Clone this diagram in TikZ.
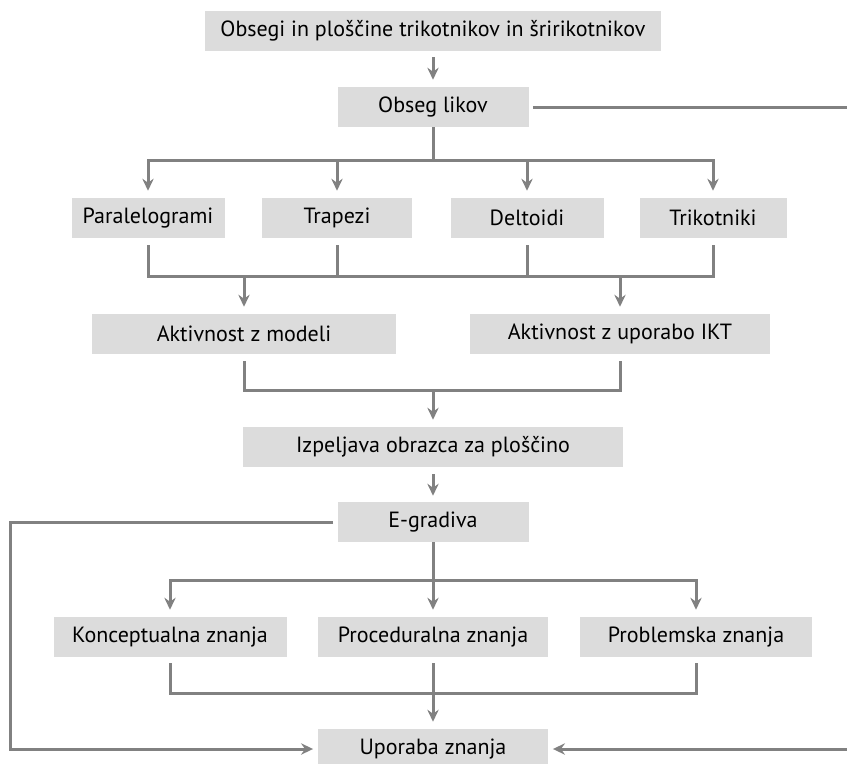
\documentclass[tikz,border=0pt]{standalone}
\usepackage{fontspec}
\setmainfont{PT Sans}
\usepackage{xcolor}
\definecolor{boxgray}{HTML}{DCDCDC}
\definecolor{linegray}{HTML}{818181}
\usetikzlibrary{arrows.meta,positioning}

\begin{document}
\begin{tikzpicture}[
  x=0.75pt,y=-0.75pt,
  box/.style={fill=boxgray,minimum height=30pt,inner sep=0pt,font=\fontsize{16.5}{19}\selectfont},
  link/.style={line width=2.25pt,draw=linegray},
  arrow/.style={link,-{Stealth[length=9pt,width=8.5pt,inset=3pt]}}
]
\useasboundingbox (0,0) rectangle (847,764);
\node[box,minimum width=342pt] (top) at (433,31) {Obsegi in ploščine trikotnikov in šririkotnikov};
\node[box,minimum width=143.25pt] (obseg) at (433,107) {Obseg likov};
\node[box,minimum width=114.75pt] (para) at (148,218) {Paralelogrami};
\node[box,minimum width=112.5pt] (trap) at (337,218) {Trapezi};
\node[box,minimum width=114.75pt] (delt) at (527,218) {Deltoidi};
\node[box,minimum width=110.25pt] (trik) at (713,218) {Trikotniki};
\node[box,minimum width=228pt] (model) at (244,334) {Aktivnost z modeli};
\node[box,minimum width=225pt] (ikt) at (620,334) {Aktivnost z uporabo IKT};
\node[box,minimum width=285pt] (izp) at (433,447) {Izpeljava obrazca za ploščino};
\node[box,minimum width=143.25pt] (egr) at (433,522) {E-gradiva};
\node[box,minimum width=174.75pt] (konc) at (170,637) {Konceptualna znanja};
\node[box,minimum width=172.5pt] (proc) at (433,637) {Proceduralna znanja};
\node[box,minimum width=174pt] (prob) at (696,637) {Problemska znanja};
\node[box,minimum width=172.5pt] (upor) at (433,749) {Uporaba znanja};
\coordinate (split1) at (433,160);
\coordinate (bar2) at (433,276);
\coordinate (bar3) at (433,390);
\coordinate (split2) at (433,580);
\coordinate (bar4) at (433,693);
\coordinate (leftc) at (10,600);
\coordinate (rightc) at (850,400);
% top part
\draw[arrow,shorten <=4.5pt,shorten >=5.25pt] (top) -- (obseg);
\draw[link] (obseg) -- (split1);
\draw[arrow,shorten >=5.25pt] (split1) -| (para);
\draw[arrow,shorten >=5.25pt] (split1) -| (trik);
\draw[arrow,shorten >=5.25pt] (trap.north|-split1) -- (trap);
\draw[arrow,shorten >=5.25pt] (delt.north|-split1) -- (delt);
\draw[link] ([yshift=-5.25pt]para.south) |- (bar2) -| ([yshift=-5.25pt]trik.south);
\draw[link,shorten <=5.25pt] (trap) -- (trap.south|-bar2);
\draw[link,shorten <=5.25pt] (delt) -- (delt.south|-bar2);
\draw[arrow,shorten >=5.25pt] (model.north|-bar2) -- (model);
\draw[arrow,shorten >=5.25pt] (ikt.north|-bar2) -- (ikt);
\draw[link] ([yshift=-5.25pt]model.south) |- (bar3) -| ([yshift=-5.25pt]ikt.south);
\draw[arrow,shorten >=5.25pt] (bar3) -- (izp);
\draw[arrow,shorten <=5.25pt,shorten >=4.5pt] (izp) -- (egr);
% bottom part
\draw[link] (egr) -- (split2);
\draw[arrow,shorten >=5.25pt] (split2) -| (konc);
\draw[arrow,shorten >=5.25pt] (split2) -| (prob);
\draw[arrow,shorten >=5.25pt] (split2) -- (proc);
\draw[link] ([yshift=-4.5pt]konc.south) |- (bar4) -| ([yshift=-4.5pt]prob.south);
\draw[arrow,shorten <=4.5pt,shorten >=5.25pt] (proc) -- (upor);
% side loops
\draw[arrow,shorten <=3pt,shorten >=3.5pt] (egr) -| (leftc) |- (upor);
\draw[arrow,shorten <=3pt,shorten >=3.5pt] (obseg) -| (rightc) |- (upor);
\end{tikzpicture}
\end{document}
